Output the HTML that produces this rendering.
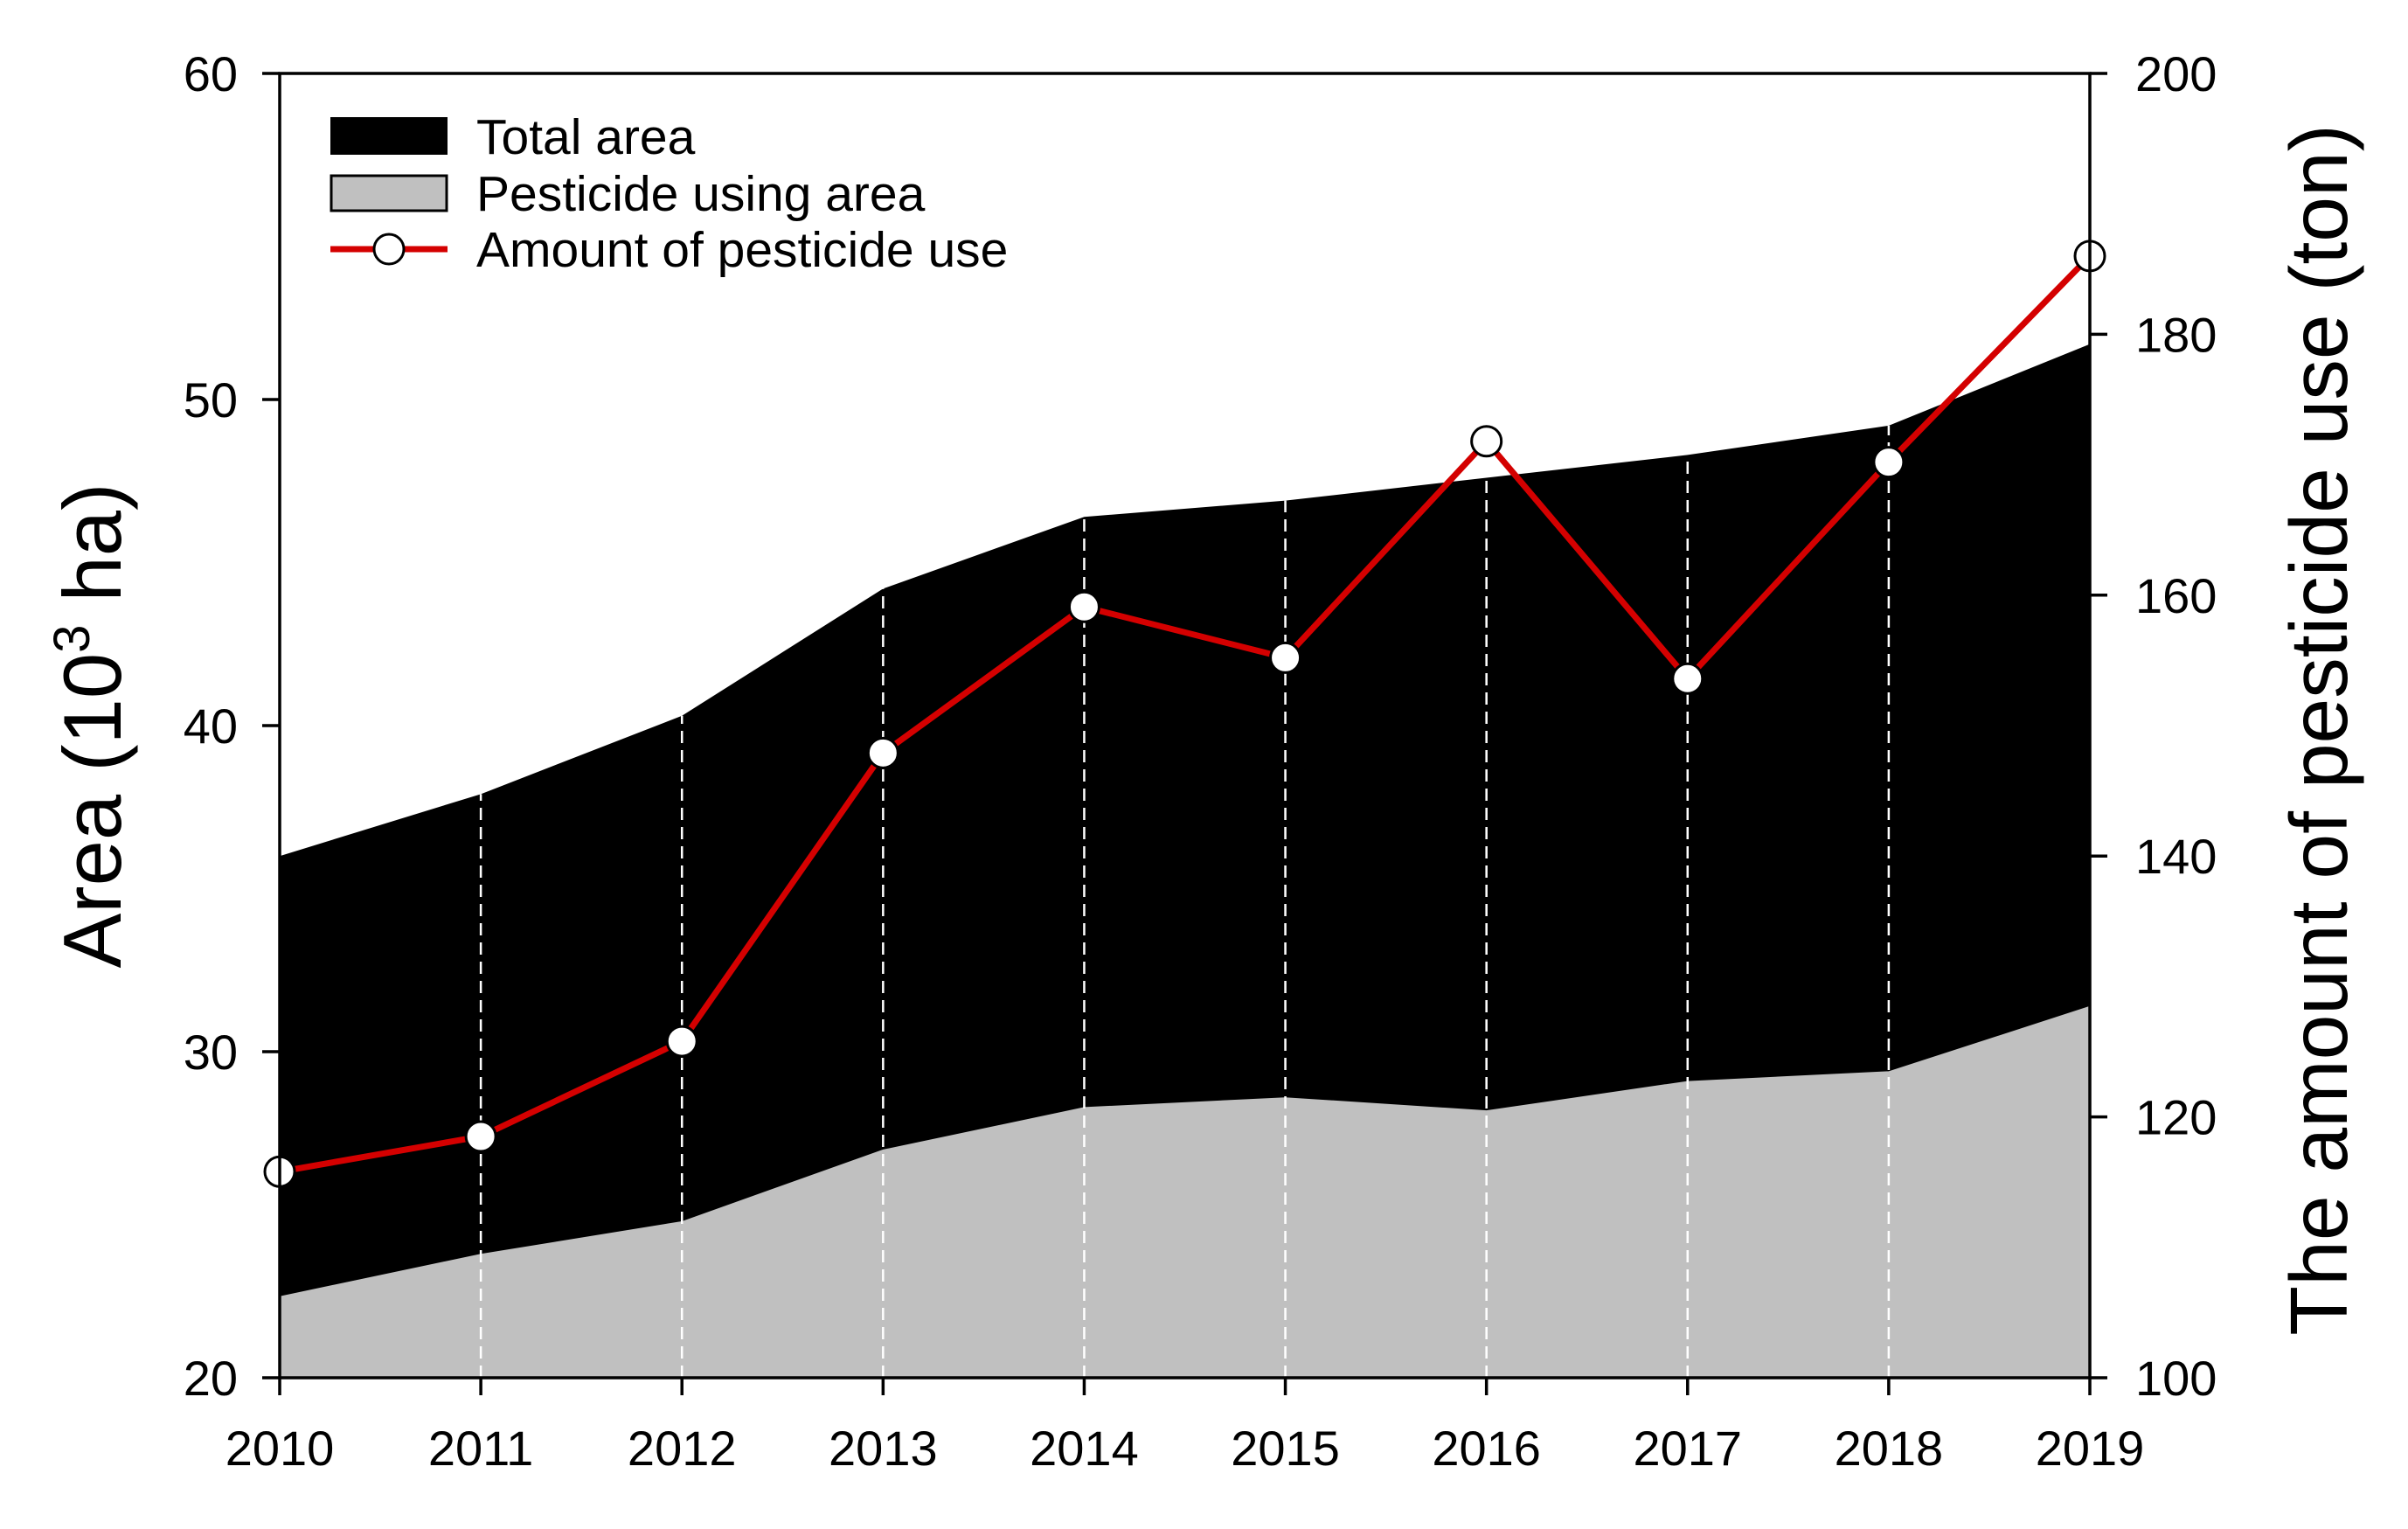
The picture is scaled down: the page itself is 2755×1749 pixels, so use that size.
<!DOCTYPE html>
<html><head><meta charset="utf-8"><style>
html,body{margin:0;padding:0;background:#fff}
svg{display:block}
text{font-family:"Liberation Sans",Arial,sans-serif;fill:#000}
</style></head><body>
<svg id="chart" width="2755" height="1749" viewBox="0 0 2755 1749">
<g id="plot"></g>
<g id="axes"></g>
<g id="legend">
  <rect x="378" y="134" width="134" height="43" fill="#000"/>
  <text x="545" y="176" font-size="57">Total area</text>
  <rect x="379" y="201" width="132" height="40" fill="#c0c0c0" stroke="#000" stroke-width="3"/>
  <text x="545" y="241" font-size="57">Pesticide using area</text>
  <line x1="378" y1="285" x2="512" y2="285" stroke="#d40000" stroke-width="7"/>
  <circle cx="445" cy="285" r="17" fill="#fff" stroke="#000" stroke-width="3"/>
  <text x="545" y="305" font-size="57">Amount of pesticide use</text>
</g>
<text x="0" y="0" font-size="94" text-anchor="middle" transform="translate(138,830) rotate(-90)">Area (10<tspan font-size="58" dy="-36">3</tspan><tspan dy="36"> ha)</tspan></text>
<text x="0" y="0" font-size="93" text-anchor="middle" transform="translate(2685,835) rotate(-90)">The amount of pesticide use (ton)</text>
</svg>
<script>
const years = [2010,2011,2012,2013,2014,2015,2016,2017,2018,2019];
const totalArea = [36.0,37.9,40.3,44.2,46.4,46.9,47.6,48.3,49.2,51.7];
const pesticideArea = [22.5,23.8,24.8,27.0,28.3,28.6,28.2,29.1,29.4,31.4];
const pesticideAmount = [115.8,118.5,125.8,147.9,159.1,155.2,171.8,153.6,170.2,186.0];
const leftTicks = [20,30,40,50,60];
const rightTicks = [100,120,140,160,180,200];

const NS = "http://www.w3.org/2000/svg";
const L = 320, R = 2391, T = 84, B = 1576;
const xS = i => L + (R - L) * i / (years.length - 1);
const yL = v => B - (v - 20) / 40 * (B - T);
const yR = v => B - (v - 100) / 100 * (B - T);
function mk(tag, attrs, parent){const e=document.createElementNS(NS,tag);for(const k in attrs)e.setAttribute(k,attrs[k]);parent.appendChild(e);return e;}
const plot = document.getElementById('plot');
const axes = document.getElementById('axes');

let d = `M${xS(0)},${B}`;
totalArea.forEach((v,i)=>{d+=` L${xS(i)},${yL(v)}`;});
d += ` L${xS(years.length-1)},${B} Z`;
const tot = mk('path',{d:d,fill:'#000'},plot);



d = `M${xS(0)},${B}`;
pesticideArea.forEach((v,i)=>{d+=` L${xS(i)},${yL(v)}`;});
d += ` L${xS(years.length-1)},${B} Z`;
const pa = mk('path',{d:d,fill:'#c0c0c0'},plot);



for(let i=1;i<years.length-1;i++){
  const g = mk('line',{x1:xS(i),x2:xS(i),y1:B,y2:yL(totalArea[i]),stroke:'#fff','stroke-width':2.5,'stroke-dasharray':'14,8'},plot);
  
  
}

let pts = pesticideAmount.map((v,i)=>`${xS(i)},${yR(v)}`).join(' ');
const ln = mk('polyline',{points:pts,fill:'none',stroke:'#d40000','stroke-width':7,'stroke-linejoin':'round'},plot);


pesticideAmount.forEach((v,i)=>{
  const c = mk('circle',{cx:xS(i),cy:yR(v),r:17,fill:'#fff',stroke:'#000','stroke-width':3},plot);
  
  
});

const fr = mk('rect',{x:L,y:T,width:R-L,height:B-T,fill:'none',stroke:'#000','stroke-width':3.5},axes);



leftTicks.forEach(v=>{
  const t = mk('line',{x1:L-20,x2:L,y1:yL(v),y2:yL(v),stroke:'#000','stroke-width':3.5},axes);
  
  
  const tx = mk('text',{x:L-48,y:yL(v)+20,'font-size':56,'text-anchor':'end'},axes);
  tx.textContent = v;
  
  
});
rightTicks.forEach(v=>{
  const t = mk('line',{x1:R,x2:R+20,y1:yR(v),y2:yR(v),stroke:'#000','stroke-width':3.5},axes);
  
  
  const tx = mk('text',{x:R+52,y:yR(v)+20,'font-size':56,'text-anchor':'start'},axes);
  tx.textContent = v;
  
  
});
years.forEach((y,i)=>{
  const t = mk('line',{x1:xS(i),x2:xS(i),y1:B,y2:B+20,stroke:'#000','stroke-width':3.5},axes);
  
  
  const tx = mk('text',{x:xS(i),y:B+100,'font-size':56,'text-anchor':'middle'},axes);
  tx.textContent = y;
  
  
});
</script>
</body></html>
